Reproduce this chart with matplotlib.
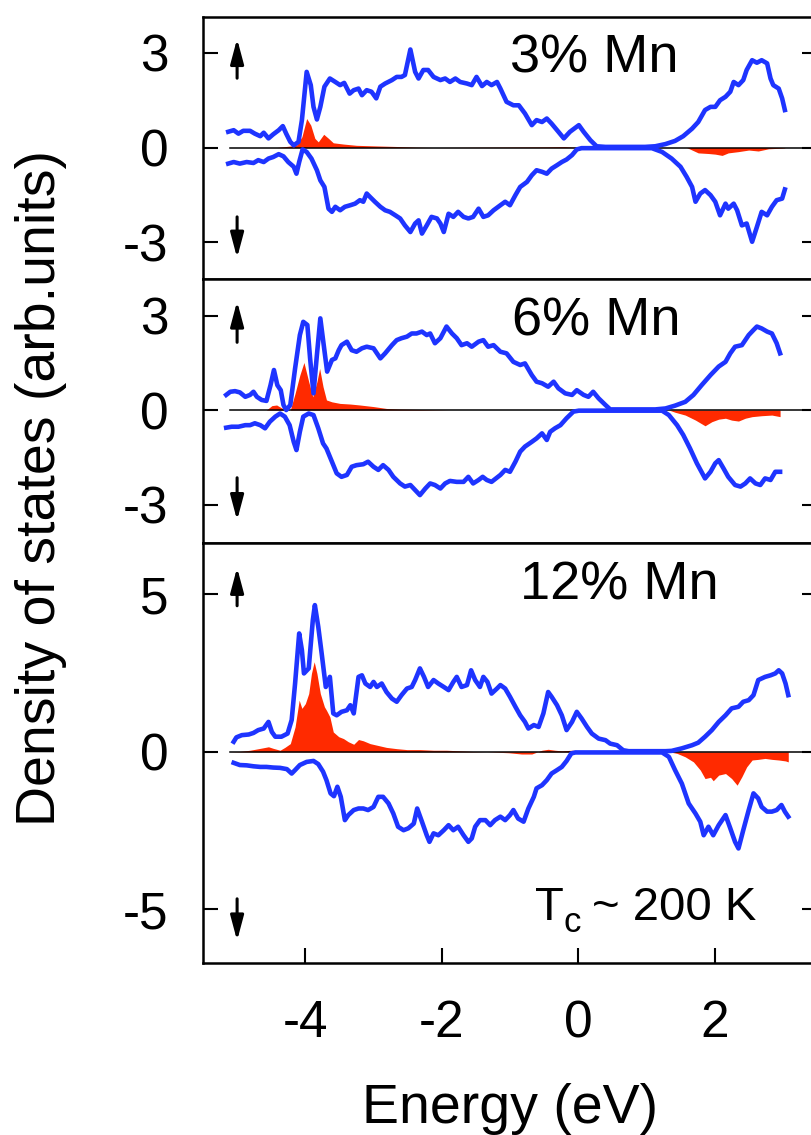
import matplotlib
matplotlib.use("Agg")
import matplotlib.pyplot as plt

plt.rcParams["font.family"] = ["Liberation Sans", "DejaVu Sans"]
plt.rcParams["axes.unicode_minus"] = False

BLUE = "#1e34ff"
RED = "#ff2a00"

# (energy eV, DOS) pairs; spin down is negative
UP_3 = [(-5.13, 0.50), (-5.05, 0.55), (-4.98, 0.44), (-4.91, 0.53), (-4.81, 0.53), (-4.74, 0.44),
        (-4.66, 0.36), (-4.61, 0.47), (-4.54, 0.29), (-4.47, 0.42), (-4.39, 0.55), (-4.33, 0.68),
        (-4.28, 0.44), (-4.22, 0.18), (-4.17, 0.07), (-4.10, 0.18), (-4.05, 0.87), (-3.98, 2.40),
        (-3.92, 1.98), (-3.88, 1.29), (-3.83, 0.89), (-3.78, 1.29), (-3.72, 1.93), (-3.64, 2.19),
        (-3.56, 2.08), (-3.49, 1.98), (-3.43, 2.05), (-3.35, 1.71), (-3.29, 1.82), (-3.22, 1.87),
        (-3.17, 1.66), (-3.10, 1.82), (-3.03, 1.77), (-2.96, 1.56), (-2.90, 1.93), (-2.83, 2.03),
        (-2.73, 2.14), (-2.66, 2.24), (-2.59, 2.24), (-2.54, 2.30), (-2.46, 3.11), (-2.39, 2.40),
        (-2.34, 2.19), (-2.27, 2.46), (-2.20, 2.46), (-2.12, 2.24), (-2.02, 2.14), (-1.95, 2.19),
        (-1.88, 2.08), (-1.80, 2.19), (-1.73, 2.08), (-1.63, 2.03), (-1.56, 1.98), (-1.49, 2.24),
        (-1.41, 1.95), (-1.34, 2.08), (-1.27, 1.98), (-1.19, 2.08), (-1.14, 1.87), (-1.05, 1.45),
        (-0.95, 1.34), (-0.87, 1.34), (-0.78, 1.08), (-0.68, 0.71), (-0.61, 0.87), (-0.53, 0.81),
        (-0.46, 0.92), (-0.39, 0.76), (-0.29, 0.50), (-0.21, 0.29), (-0.12, 0.50), (0.01, 0.71),
        (0.08, 0.50), (0.18, 0.23), (0.27, 0.04), (0.40, 0.02), (0.74, 0.02), (0.98, 0.02),
        (1.13, 0.04), (1.28, 0.11), (1.42, 0.21), (1.54, 0.36), (1.67, 0.60), (1.76, 0.81),
        (1.86, 1.19), (1.94, 1.29), (2.01, 1.29), (2.08, 1.50), (2.16, 1.61), (2.23, 1.77),
        (2.28, 2.08), (2.35, 1.98), (2.42, 2.14), (2.47, 2.46), (2.55, 2.77), (2.62, 2.69),
        (2.69, 2.77), (2.77, 2.67), (2.82, 2.19), (2.86, 1.98), (2.94, 1.87), (2.99, 1.56),
        (3.03, 1.19)]

DN_3 = [(-5.13, -0.51), (-5.05, -0.46), (-4.96, -0.51), (-4.86, -0.46), (-4.76, -0.49), (-4.69, -0.40),
        (-4.61, -0.46), (-4.54, -0.35), (-4.47, -0.30), (-4.39, -0.21), (-4.32, -0.28), (-4.25, -0.46),
        (-4.17, -0.61), (-4.13, -0.83), (-4.09, -0.46), (-4.04, -0.06), (-3.98, -0.14), (-3.91, -0.35),
        (-3.83, -0.72), (-3.78, -1.04), (-3.72, -1.25), (-3.66, -1.94), (-3.61, -2.04), (-3.56, -1.88),
        (-3.49, -1.99), (-3.42, -1.88), (-3.34, -1.83), (-3.27, -1.78), (-3.20, -1.67), (-3.15, -1.72),
        (-3.10, -1.46), (-3.05, -1.57), (-2.98, -1.72), (-2.90, -1.88), (-2.83, -1.99), (-2.76, -2.04),
        (-2.68, -2.15), (-2.61, -2.25), (-2.54, -2.47), (-2.46, -2.68), (-2.39, -2.41), (-2.34, -2.31),
        (-2.29, -2.73), (-2.22, -2.47), (-2.15, -2.20), (-2.07, -2.25), (-2.02, -2.41), (-1.97, -2.68),
        (-1.90, -2.10), (-1.83, -2.20), (-1.76, -2.04), (-1.68, -2.20), (-1.61, -2.25), (-1.54, -2.20),
        (-1.46, -1.94), (-1.39, -2.20), (-1.32, -2.15), (-1.24, -1.99), (-1.14, -1.83), (-1.07, -1.72),
        (-1.00, -1.83), (-0.92, -1.51), (-0.85, -1.25), (-0.75, -1.09), (-0.68, -0.88), (-0.61, -0.72),
        (-0.53, -0.77), (-0.46, -0.83), (-0.39, -0.67), (-0.31, -0.56), (-0.24, -0.46), (-0.17, -0.38),
        (-0.09, -0.24), (-0.02, -0.06), (0.05, -0.02), (0.25, -0.02), (0.74, -0.02), (1.08, -0.02),
        (1.23, -0.14), (1.37, -0.35), (1.50, -0.61), (1.59, -0.93), (1.67, -1.25), (1.72, -1.72),
        (1.79, -1.46), (1.86, -1.35), (1.94, -1.51), (2.01, -1.72), (2.08, -2.15), (2.16, -1.78),
        (2.20, -1.94), (2.28, -1.78), (2.33, -1.99), (2.40, -2.47), (2.47, -2.41), (2.55, -2.99),
        (2.62, -2.52), (2.69, -2.04), (2.77, -2.15), (2.84, -1.88), (2.91, -1.67), (2.99, -1.62),
        (3.03, -1.33)]

MN_3 = [(-5.13, 0.0), (-4.42, 0.0), (-4.25, 0.04), (-4.13, 0.07), (-4.05, 0.34), (-3.98, 0.92),
        (-3.92, 0.71), (-3.86, 0.29), (-3.81, 0.18), (-3.73, 0.42), (-3.66, 0.29), (-3.59, 0.15),
        (-3.44, 0.11), (-3.25, 0.07), (-2.95, 0.05), (-2.61, 0.03), (-2.37, 0.01), (-2.12, 0.0),
        (-0.50, 0.02), (-0.20, 0.03), (0.00, 0.0), (1.59, 0.0), (1.67, -0.08), (1.76, -0.17),
        (1.91, -0.19), (2.01, -0.21), (2.11, -0.25), (2.20, -0.17), (2.35, -0.13), (2.50, -0.08),
        (2.64, -0.11), (2.79, -0.04), (2.99, -0.02), (3.03, -0.01)]

UP_6 = [(-5.16, 0.48), (-5.10, 0.58), (-5.03, 0.60), (-4.96, 0.56), (-4.88, 0.42), (-4.81, 0.48),
        (-4.76, 0.58), (-4.71, 0.42), (-4.64, 0.32), (-4.57, 0.29), (-4.51, 0.79), (-4.46, 1.27),
        (-4.41, 0.79), (-4.36, 0.63), (-4.32, 0.16), (-4.28, 0.00), (-4.22, 0.16), (-4.15, 1.32),
        (-4.08, 2.38), (-4.03, 2.80), (-3.97, 2.70), (-3.93, 1.64), (-3.88, 0.53), (-3.83, 1.75),
        (-3.78, 2.91), (-3.73, 2.06), (-3.68, 1.22), (-3.61, 1.59), (-3.56, 1.64), (-3.51, 1.90),
        (-3.47, 2.06), (-3.39, 2.17), (-3.32, 1.90), (-3.25, 1.85), (-3.17, 1.96), (-3.10, 2.01),
        (-3.00, 1.96), (-2.90, 1.64), (-2.83, 1.80), (-2.73, 2.06), (-2.66, 2.22), (-2.59, 2.28),
        (-2.51, 2.33), (-2.44, 2.43), (-2.37, 2.43), (-2.29, 2.49), (-2.22, 2.38), (-2.17, 2.43),
        (-2.10, 2.12), (-2.02, 2.28), (-1.93, 2.65), (-1.85, 2.43), (-1.78, 2.28), (-1.71, 2.06),
        (-1.63, 2.12), (-1.56, 2.01), (-1.46, 2.17), (-1.39, 2.22), (-1.32, 2.01), (-1.24, 2.06),
        (-1.14, 1.85), (-1.05, 1.80), (-0.95, 1.53), (-0.85, 1.43), (-0.78, 1.48), (-0.68, 1.11),
        (-0.61, 0.90), (-0.53, 0.85), (-0.44, 0.74), (-0.36, 0.90), (-0.29, 0.69), (-0.19, 0.53),
        (-0.09, 0.48), (-0.02, 0.63), (0.08, 0.48), (0.15, 0.42), (0.22, 0.58), (0.30, 0.37),
        (0.40, 0.16), (0.47, 0.02), (0.74, 0.02), (1.13, 0.02), (1.28, 0.05), (1.42, 0.14),
        (1.57, 0.26), (1.69, 0.48), (1.81, 0.79), (1.94, 1.11), (2.06, 1.38), (2.16, 1.53),
        (2.23, 1.80), (2.30, 2.01), (2.40, 2.06), (2.50, 2.38), (2.57, 2.54), (2.62, 2.65),
        (2.69, 2.59), (2.77, 2.49), (2.84, 2.43), (2.91, 2.12), (2.96, 1.80)]

DN_6 = [(-5.16, -0.56), (-5.08, -0.53), (-4.98, -0.53), (-4.88, -0.48), (-4.81, -0.48), (-4.74, -0.42),
        (-4.66, -0.48), (-4.59, -0.58), (-4.52, -0.37), (-4.44, -0.21), (-4.37, -0.11), (-4.30, -0.21),
        (-4.23, -0.48), (-4.17, -1.01), (-4.13, -1.27), (-4.08, -0.69), (-4.03, -0.21), (-3.95, -0.11),
        (-3.88, -0.16), (-3.81, -0.58), (-3.74, -1.06), (-3.69, -1.22), (-3.61, -1.64), (-3.54, -2.01),
        (-3.47, -2.12), (-3.39, -2.06), (-3.32, -1.80), (-3.25, -1.75), (-3.15, -1.72), (-3.08, -1.64),
        (-3.00, -1.80), (-2.93, -1.90), (-2.86, -1.75), (-2.78, -1.90), (-2.71, -2.12), (-2.61, -2.33),
        (-2.54, -2.43), (-2.46, -2.38), (-2.39, -2.54), (-2.32, -2.70), (-2.24, -2.49), (-2.17, -2.33),
        (-2.10, -2.38), (-2.02, -2.49), (-1.95, -2.33), (-1.88, -2.25), (-1.78, -2.28), (-1.68, -2.28),
        (-1.61, -2.12), (-1.54, -2.33), (-1.46, -2.22), (-1.40, -2.12), (-1.34, -2.22), (-1.27, -2.28),
        (-1.14, -2.06), (-1.07, -1.90), (-1.00, -1.96), (-0.92, -1.64), (-0.85, -1.32), (-0.78, -1.16),
        (-0.68, -1.01), (-0.61, -0.90), (-0.53, -0.74), (-0.46, -0.95), (-0.41, -0.69), (-0.34, -0.58),
        (-0.26, -0.48), (-0.17, -0.26), (-0.07, -0.05), (0.01, -0.02), (0.74, -0.02), (1.23, -0.02),
        (1.33, -0.16), (1.45, -0.48), (1.54, -0.79), (1.64, -1.22), (1.74, -1.69), (1.86, -2.17),
        (1.94, -1.96), (2.01, -1.69), (2.06, -1.59), (2.13, -1.85), (2.20, -2.12), (2.30, -2.38),
        (2.38, -2.43), (2.45, -2.33), (2.52, -2.17), (2.60, -2.33), (2.67, -2.38), (2.74, -2.17),
        (2.82, -2.22), (2.89, -1.96), (2.96, -1.96)]

MN_6 = [(-5.16, 0.0), (-4.57, 0.0), (-4.49, 0.14), (-4.42, 0.16), (-4.35, 0.07), (-4.28, 0.0),
        (-4.22, 0.0), (-4.15, 0.53), (-4.08, 1.11), (-4.02, 1.51), (-3.95, 0.90), (-3.89, 0.42),
        (-3.83, 0.90), (-3.79, 1.32), (-3.74, 0.74), (-3.69, 0.32), (-3.61, 0.26), (-3.49, 0.21),
        (-3.34, 0.19), (-3.20, 0.16), (-3.00, 0.11), (-2.81, 0.05), (-2.61, 0.03), (-2.37, 0.02),
        (-2.12, 0.01), (-1.88, 0.0), (1.33, 0.0), (1.42, -0.07), (1.57, -0.16), (1.72, -0.32),
        (1.86, -0.50), (1.96, -0.37), (2.06, -0.29), (2.16, -0.26), (2.25, -0.32), (2.35, -0.35),
        (2.45, -0.26), (2.55, -0.21), (2.69, -0.18), (2.84, -0.16), (2.96, -0.21)]

UP_12 = [(-5.05, 0.32), (-5.01, 0.46), (-4.93, 0.53), (-4.83, 0.55), (-4.76, 0.60), (-4.69, 0.69),
         (-4.61, 0.74), (-4.54, 0.95), (-4.49, 0.63), (-4.44, 0.48), (-4.35, 0.48), (-4.26, 0.58),
         (-4.20, 1.01), (-4.15, 2.17), (-4.09, 3.76), (-4.05, 3.23), (-4.02, 2.49), (-3.95, 2.65),
         (-3.89, 4.18), (-3.86, 4.66), (-3.81, 3.97), (-3.76, 3.12), (-3.70, 2.06), (-3.64, 2.38),
         (-3.59, 1.22), (-3.54, 1.16), (-3.47, 1.27), (-3.39, 1.32), (-3.34, 1.48), (-3.29, 1.22),
         (-3.22, 2.38), (-3.17, 2.43), (-3.12, 2.17), (-3.05, 2.06), (-3.00, 2.22), (-2.95, 2.06),
         (-2.88, 2.17), (-2.81, 1.90), (-2.73, 1.69), (-2.66, 1.59), (-2.59, 1.80), (-2.51, 2.01),
         (-2.44, 2.06), (-2.39, 2.28), (-2.32, 2.65), (-2.26, 2.38), (-2.20, 2.06), (-2.12, 2.28),
         (-2.05, 2.17), (-1.97, 2.06), (-1.90, 1.96), (-1.83, 2.22), (-1.78, 2.38), (-1.71, 2.06),
         (-1.63, 2.12), (-1.57, 2.59), (-1.51, 2.28), (-1.44, 2.06), (-1.39, 2.38), (-1.33, 2.22),
         (-1.27, 1.85), (-1.19, 2.01), (-1.14, 2.12), (-1.07, 2.01), (-1.00, 1.75), (-0.92, 1.43),
         (-0.85, 1.16), (-0.78, 0.95), (-0.73, 0.74), (-0.65, 0.85), (-0.58, 0.79), (-0.51, 1.22),
         (-0.44, 1.90), (-0.39, 1.75), (-0.31, 1.48), (-0.24, 1.16), (-0.17, 0.69), (-0.09, 0.95),
         (-0.02, 1.27), (0.05, 1.06), (0.13, 0.79), (0.20, 0.58), (0.30, 0.42), (0.40, 0.37),
         (0.47, 0.26), (0.57, 0.21), (0.66, 0.05), (0.74, 0.02), (1.13, 0.02), (1.28, 0.02),
         (1.37, 0.03), (1.52, 0.11), (1.67, 0.21), (1.76, 0.29), (1.86, 0.48), (1.96, 0.69),
         (2.06, 0.95), (2.16, 1.16), (2.25, 1.38), (2.35, 1.43), (2.42, 1.59), (2.50, 1.64),
         (2.57, 1.80), (2.64, 2.28), (2.74, 2.38), (2.82, 2.43), (2.89, 2.49), (2.94, 2.59),
         (2.99, 2.49), (3.04, 2.17), (3.08, 1.80)]

DN_12 = [(-5.05, -0.35), (-4.96, -0.42), (-4.86, -0.43), (-4.76, -0.46), (-4.66, -0.48), (-4.57, -0.48),
         (-4.47, -0.50), (-4.37, -0.51), (-4.27, -0.55), (-4.20, -0.69), (-4.15, -0.58), (-4.08, -0.42),
         (-3.98, -0.32), (-3.88, -0.29), (-3.81, -0.39), (-3.74, -0.63), (-3.69, -0.90), (-3.63, -1.32),
         (-3.58, -1.41), (-3.53, -1.11), (-3.48, -1.43), (-3.42, -2.17), (-3.37, -2.01), (-3.29, -1.85),
         (-3.22, -1.80), (-3.15, -1.80), (-3.08, -1.85), (-3.00, -1.75), (-2.93, -1.43), (-2.86, -1.43),
         (-2.78, -1.64), (-2.71, -1.96), (-2.64, -2.38), (-2.56, -2.49), (-2.49, -2.43), (-2.41, -2.28),
         (-2.36, -1.80), (-2.29, -2.22), (-2.22, -2.65), (-2.18, -2.86), (-2.12, -2.59), (-2.05, -2.65),
         (-1.97, -2.49), (-1.90, -2.33), (-1.83, -2.49), (-1.76, -2.38), (-1.68, -2.65), (-1.61, -2.86),
         (-1.56, -2.75), (-1.51, -2.38), (-1.44, -2.17), (-1.36, -2.17), (-1.29, -2.33), (-1.22, -2.17),
         (-1.14, -2.06), (-1.07, -2.17), (-1.00, -2.01), (-0.95, -1.85), (-0.88, -2.12), (-0.80, -2.22),
         (-0.73, -1.80), (-0.65, -1.43), (-0.61, -1.16), (-0.53, -1.06), (-0.46, -0.90), (-0.39, -0.69),
         (-0.31, -0.58), (-0.24, -0.48), (-0.17, -0.29), (-0.10, -0.05), (-0.04, -0.02), (0.74, -0.02),
         (1.23, -0.02), (1.33, -0.16), (1.42, -0.58), (1.52, -1.01), (1.62, -1.64), (1.72, -1.96),
         (1.79, -2.22), (1.84, -2.65), (1.91, -2.38), (1.98, -2.65), (2.06, -2.33), (2.16, -2.01),
         (2.23, -2.43), (2.30, -2.86), (2.35, -3.07), (2.42, -2.49), (2.50, -1.85), (2.57, -1.32),
         (2.64, -1.48), (2.69, -1.75), (2.77, -1.90), (2.84, -1.90), (2.91, -1.85), (2.98, -1.69),
         (3.03, -1.90), (3.08, -2.06)]

MN_12 = [(-5.10, 0.0), (-4.96, 0.01), (-4.81, 0.05), (-4.66, 0.11), (-4.54, 0.16), (-4.47, 0.11),
         (-4.37, 0.05), (-4.30, 0.14), (-4.22, 0.26), (-4.15, 0.79), (-4.09, 1.64), (-4.05, 1.38),
         (-4.00, 1.53), (-3.95, 1.85), (-3.91, 2.49), (-3.87, 2.86), (-3.83, 2.49), (-3.78, 1.85),
         (-3.72, 1.43), (-3.69, 1.32), (-3.64, 1.11), (-3.59, 0.63), (-3.51, 0.48), (-3.44, 0.42),
         (-3.37, 0.32), (-3.29, 0.24), (-3.22, 0.39), (-3.15, 0.35), (-3.05, 0.26), (-2.95, 0.21),
         (-2.81, 0.14), (-2.66, 0.10), (-2.51, 0.07), (-2.32, 0.07), (-2.12, 0.05), (-1.93, 0.05),
         (-1.73, 0.03), (-1.54, 0.01), (-1.34, 0.0), (-1.02, -0.03), (-0.83, -0.07), (-0.68, -0.07),
         (-0.53, 0.05), (-0.44, 0.08), (-0.34, 0.05), (-0.24, 0.03), (-0.09, 0.05), (0.05, 0.03),
         (0.20, 0.03), (0.40, 0.01), (0.74, 0.0), (1.33, 0.0), (1.45, -0.05), (1.57, -0.16),
         (1.69, -0.32), (1.79, -0.58), (1.86, -0.85), (1.94, -0.81), (1.98, -0.92), (2.06, -0.74),
         (2.16, -0.69), (2.25, -0.85), (2.33, -1.06), (2.40, -0.79), (2.47, -0.48), (2.55, -0.26),
         (2.64, -0.24), (2.74, -0.21), (2.84, -0.24), (2.94, -0.26), (3.04, -0.29), (3.08, -0.32)]

LABELS = ["3% Mn", "6% Mn", "12% Mn"]
YTICKS = [[-3, 0, 3], [-3, 0, 3], [-5, 0, 5]]
XTICKS = [-4, -2, 0, 2]


def unzip(pairs):
    return [p[0] for p in pairs], [p[1] for p in pairs]


fig = plt.figure(figsize=(8.11, 11.35), dpi=100)

# axes boxes in figure fraction, the right frame runs just past the image edge
rects = [[0.2503, 0.7542, 0.757, 0.2308],
         [0.2503, 0.5216, 0.757, 0.2326],
         [0.2503, 0.1515, 0.757, 0.3700]]
ylims = [(-4.17, 4.14), (-4.22, 4.16), (-6.71, 6.63)]
label_pos = [(-1.0, 2.39), (-0.97, 2.36), (-0.85, 4.84)]
arrows = [(2.2, 3.45, -2.2, -3.5), (2.15, 3.45, -2.15, -3.5), (4.64, 5.85, -4.67, -6.0)]

series = [(UP_3, DN_3, MN_3), (UP_6, DN_6, MN_6), (UP_12, DN_12, MN_12)]

for i, (up, dn, mn) in enumerate(series):
    ax = fig.add_axes(rects[i])
    e_mn, d_mn = unzip(mn)
    ax.fill_between(e_mn, 0, d_mn, color=RED, linewidth=0, zorder=1)
    ax.axhline(0, xmin=0.044, xmax=1, color="black", lw=1.1, zorder=2)
    e_up, d_up = unzip(up)
    e_dn, d_dn = unzip(dn)
    ax.plot(e_up, d_up, color=BLUE, lw=3.3, zorder=3, solid_joinstyle="round")
    ax.plot(e_dn, d_dn, color=BLUE, lw=3.3, zorder=3, solid_joinstyle="round")

    ax.set_xlim(-5.5, 3.5)
    ax.set_ylim(*ylims[i])
    ax.set_yticks(YTICKS[i])
    ax.set_xticks(XTICKS)
    ax.tick_params(axis="y", direction="in", length=11, width=1.5, labelsize=37,
                   pad=25, left=True, right=True)
    if i < 2:
        ax.tick_params(axis="x", bottom=False, labelbottom=False)
    else:
        ax.tick_params(axis="x", direction="in", length=11, width=1.5, labelsize=37,
                       pad=26, top=False)
    for sp in ax.spines.values():
        sp.set_linewidth(1.8)

    ax.text(label_pos[i][0], label_pos[i][1], LABELS[i], fontsize=39,
            ha="left", va="baseline")

    t_up, h_up, t_dn, h_dn = arrows[i]
    style = "-|>,head_width=0.2,head_length=0.75"
    for tail, head in [(t_up, h_up), (t_dn, h_dn)]:
        ax.annotate("", xy=(-5.0, head), xytext=(-5.0, tail),
                    arrowprops=dict(arrowstyle=style, lw=2.2, color="black",
                                    mutation_scale=20, shrinkA=0, shrinkB=0))

    if i == 2:
        # T with a dropped subscript c, then the rest of the note
        ax.text(-0.63, -5.34, "T", fontsize=34, ha="left", va="baseline")
        ax.text(-0.22, -5.72, "c", fontsize=25, ha="left", va="baseline")
        ax.text(0.20, -5.34, "~ 200 K", fontsize=34, ha="left", va="baseline")

fig.text(0.05, 0.570, "Density of states (arb.units)", rotation=90,
         ha="center", va="center", fontsize=40)
fig.text(0.629, 0.0106, "Energy (eV)", ha="center", va="baseline", fontsize=40)

fig.savefig("out.png", dpi=100)
